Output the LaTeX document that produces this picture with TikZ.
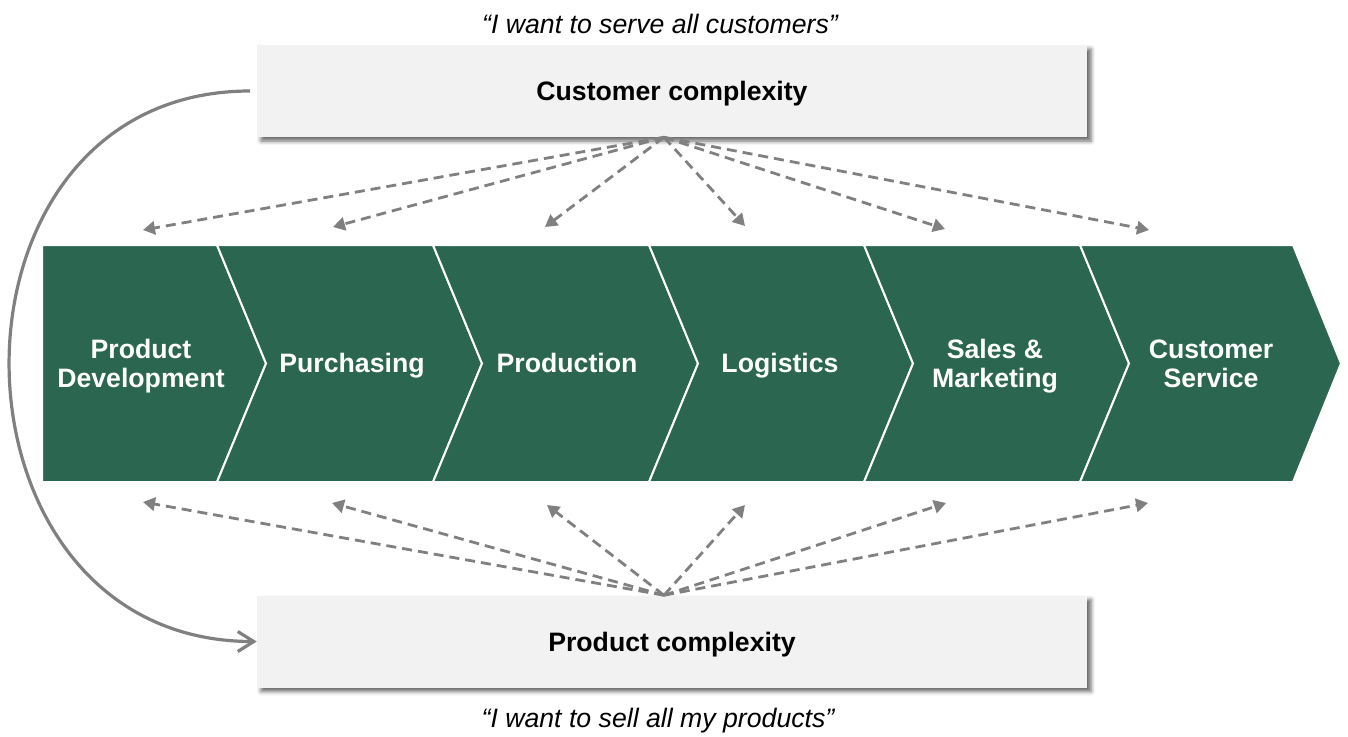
\documentclass[tikz,border=0pt]{standalone}
\usepackage{fontspec}
\setmainfont{Liberation Sans}
\usetikzlibrary{arrows.meta,shadows.blur}
\definecolor{chevgreen}{HTML}{2A6650}
\definecolor{boxgray}{HTML}{F2F2F2}
\definecolor{arrgray}{HTML}{808080}

\begin{document}
\begin{tikzpicture}[x=0.75pt,y=-0.75pt,
  chevron/.style={fill=chevgreen, draw=white, line width=1.5pt, line join=miter},
  stage/.style={text=white, align=center, inner sep=0pt, text depth=0pt, font=\fontsize{20}{22}\selectfont\bfseries},
  cbox/.style={fill=boxgray, minimum width=622.5pt, minimum height=69pt, text depth=0pt,
    font=\fontsize{20}{24}\selectfont\bfseries,
    blur shadow={shadow xshift=3pt, shadow yshift=-3pt, shadow blur radius=3pt, shadow opacity=60}},
  saying/.style={text depth=0pt, font=\fontsize{20}{24}\selectfont\itshape},
  impact/.style={arrgray, line width=2.1pt, dash pattern=on 7.5pt off 4.5pt, -{Triangle[length=9pt,width=10pt]}},
  feedback/.style={arrgray, line width=2.4pt, -{Straight Barb[length=12pt,width=15pt]}}]
\useasboundingbox (0,0) rectangle (1348,736);

% value chain chevrons
\filldraw[chevron] (42,245) -- (217,245) -- (266,363.5) -- (217,482) -- (42,482) -- cycle;
\filldraw[chevron] (217,245) -- (433,245) -- (482,363.5) -- (433,482) -- (217,482) -- (266,363.5) -- cycle;
\filldraw[chevron] (433,245) -- (649,245) -- (698,363.5) -- (649,482) -- (433,482) -- (482,363.5) -- cycle;
\filldraw[chevron] (649,245) -- (864,245) -- (913,363.5) -- (864,482) -- (649,482) -- (698,363.5) -- cycle;
\filldraw[chevron] (864,245) -- (1080,245) -- (1129,363.5) -- (1080,482) -- (864,482) -- (913,363.5) -- cycle;
\filldraw[chevron] (1080,245) -- (1293,245) -- (1341,363.5) -- (1293,482) -- (1080,482) -- (1129,363.5) -- cycle;

\node[stage] (dev) at (141,363.5) {Product\\Development};
\node[stage] (pur) at (352,363) {Purchasing};
\node[stage] (prd) at (567,363) {Production};
\node[stage] (log) at (780,363) {Logistics};
\node[stage] (sal) at (995,363.5) {Sales \&\\Marketing};
\node[stage] (srv) at (1211,363.5) {Customer\\Service};

% complexity boxes and quotes
\node[cbox] (cc) at (672,91) {Customer complexity};
\node[cbox] (pc) at (672,641.5) {Product complexity};
\node[saying] (cq) at (660,23.5) {“I want to serve all customers”};
\node[saying] (pq) at (658,718) {“I want to sell all my products”};

% arrow ends above and below the chain
\coordinate (up1) at (143,230);
\coordinate (up2) at (333,227);
\coordinate (up3) at (545,227);
\coordinate (up4) at (745,226);
\coordinate (up5) at (945,229);
\coordinate (up6) at (1149,230);
\coordinate (dn1) at (143,502);
\coordinate (dn2) at (332,503);
\coordinate (dn3) at (547,505);
\coordinate (dn4) at (745,505);
\coordinate (dn5) at (946,503);
\coordinate (dn6) at (1148,503);

% customer complexity hits every stage
\draw[impact] ([xshift=-6pt]cc.south) -- (up1);
\draw[impact] ([xshift=-6pt]cc.south) -- (up2);
\draw[impact] ([xshift=-6pt]cc.south) -- (up3);
\draw[impact] ([xshift=-6pt]cc.south) -- (up4);
\draw[impact] ([xshift=-6pt]cc.south) -- (up5);
\draw[impact] ([xshift=-6pt]cc.south) -- (up6);

% product complexity too
\draw[impact] ([xshift=-6pt]pc.north) -- (dn1);
\draw[impact] ([xshift=-6pt]pc.north) -- (dn2);
\draw[impact] ([xshift=-6pt]pc.north) -- (dn3);
\draw[impact] ([xshift=-6pt]pc.north) -- (dn4);
\draw[impact] ([xshift=-6pt]pc.north) -- (dn5);
\draw[impact] ([xshift=-6pt]pc.north) -- (dn6);

% one drives the other
\draw[feedback] ([xshift=-5pt]cc.west) .. controls +(-325,0) and +(-325,0) .. (pc.west);

\end{tikzpicture}
\end{document}
